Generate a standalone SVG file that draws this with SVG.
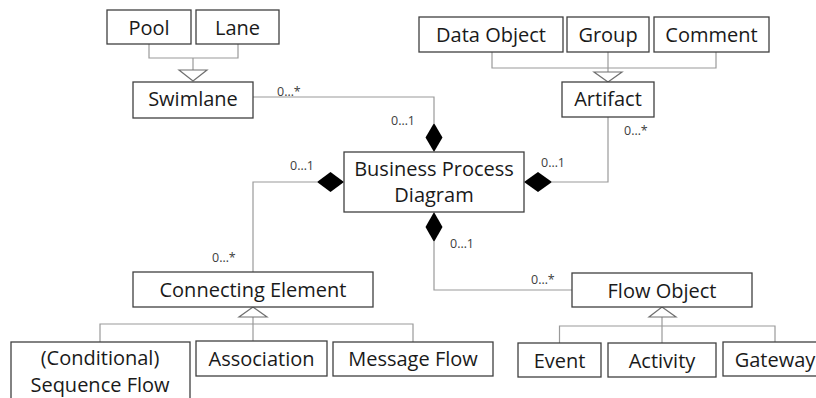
<svg xmlns="http://www.w3.org/2000/svg" width="816" height="398" viewBox="0 0 816 398">
  <style>
    .box { fill: #ffffff; stroke: #404040; stroke-width: 1.3; }
    .lbl { font-family: "Open Sans", "Noto Sans", sans-serif; font-size: 20px; fill: #1a1a1a; text-anchor: middle; }
    .mult { font-family: "Open Sans", "Noto Sans", sans-serif; font-size: 12.5px; fill: #404040; }
    .wire { fill: none; stroke: #9a9a9a; stroke-width: 1.2; }
    .gen { fill: #ffffff; stroke: #707070; stroke-width: 1.2; }
    .comp { fill: #000000; }
  </style>
  <rect width="816" height="398" fill="#ffffff"/>

  <!-- connectors -->
  <g id="connectors">
    <!-- Pool / Lane generalize Swimlane -->
    <path class="wire" d="M149 44 V58 H238 V44 M193 58 V70"/>
    <polygon class="gen" points="179,70 207,70 193,81"/>
    <!-- Data Object / Group / Comment generalize Artifact -->
    <path class="wire" d="M492 52 V68 H716 V52 M608 52 V72"/>
    <polygon class="gen" points="594,72 622,72 608,82"/>
    <!-- Swimlane composed into diagram -->
    <path class="wire" d="M253 97 H434 V123"/>
    <polygon class="comp" points="434,123 442.5,137.5 434,152 425.5,137.5"/>
    <text class="mult" x="277" y="96">0…*</text>
    <text class="mult" x="391" y="125">0…1</text>
    <!-- Artifact composed into diagram -->
    <path class="wire" d="M608 117 V182 H552"/>
    <polygon class="comp" points="552,182 538,192 524,182 538,172"/>
    <text class="mult" x="624" y="135">0…*</text>
    <text class="mult" x="541" y="167">0…1</text>
    <!-- Connecting Element composed into diagram -->
    <path class="wire" d="M317 182 H253 V272"/>
    <polygon class="comp" points="344,182 330.5,192 317,182 330.5,172"/>
    <text class="mult" x="290" y="170">0…1</text>
    <text class="mult" x="212" y="262">0…*</text>
    <!-- Flow Object composed into diagram -->
    <path class="wire" d="M434 242 V290 H572"/>
    <polygon class="comp" points="434,212 442.5,227 434,242 425.5,227"/>
    <text class="mult" x="450" y="248">0…1</text>
    <text class="mult" x="531" y="284">0…*</text>
    <!-- subclasses of Connecting Element -->
    <path class="wire" d="M100 342 V324 H413 V342 M253 317 V341"/>
    <polygon class="gen" points="239,317 267,317 253,307"/>
    <!-- subclasses of Flow Object -->
    <path class="wire" d="M559.5 343 V326 H775 V342 M662 317 V343"/>
    <polygon class="gen" points="649,317 676,317 662,307"/>
  </g>

  <!-- nodes -->
  <g id="pool"><rect class="box" x="107" y="10" width="84" height="34"/><text class="lbl" x="149" y="34.5">Pool</text></g>
  <g id="lane"><rect class="box" x="196" y="10" width="83" height="34"/><text class="lbl" x="237.5" y="34.5">Lane</text></g>
  <g id="swimlane"><rect class="box" x="133" y="82" width="120" height="36"/><text class="lbl" x="193" y="105.5">Swimlane</text></g>
  <g id="data-object"><rect class="box" x="419" y="17" width="144" height="35"/><text class="lbl" x="491" y="42">Data Object</text></g>
  <g id="group"><rect class="box" x="567" y="17" width="82" height="35"/><text class="lbl" x="608" y="42">Group</text></g>
  <g id="comment"><rect class="box" x="654" y="17" width="115" height="35"/><text class="lbl" x="711.5" y="42">Comment</text></g>
  <g id="artifact"><rect class="box" x="562" y="82" width="92" height="35"/><text class="lbl" x="608" y="106">Artifact</text></g>
  <g id="business-process-diagram">
    <rect class="box" x="344" y="152" width="180" height="60"/>
    <text class="lbl" x="434" y="176">Business Process</text>
    <text class="lbl" x="434" y="202">Diagram</text>
  </g>
  <g id="connecting-element"><rect class="box" x="133" y="272" width="240" height="35"/><text class="lbl" x="253" y="296.5">Connecting Element</text></g>
  <g id="flow-object"><rect class="box" x="572" y="273" width="180" height="34"/><text class="lbl" x="662" y="297.5">Flow Object</text></g>
  <g id="sequence-flow">
    <rect class="box" x="11" y="342" width="179" height="70"/>
    <text class="lbl" x="100" y="365">(Conditional)</text>
    <text class="lbl" x="100" y="392">Sequence Flow</text>
  </g>
  <g id="association"><rect class="box" x="196" y="341" width="131" height="35"/><text class="lbl" x="261.5" y="365.5">Association</text></g>
  <g id="message-flow"><rect class="box" x="333" y="342" width="160" height="34"/><text class="lbl" x="413" y="366">Message Flow</text></g>
  <g id="event"><rect class="box" x="518" y="343" width="83" height="34"/><text class="lbl" x="559.5" y="367.5">Event</text></g>
  <g id="activity"><rect class="box" x="608" y="343" width="108" height="34"/><text class="lbl" x="662" y="367.5">Activity</text></g>
  <g id="gateway"><rect class="box" x="723" y="342" width="104" height="34"/><text class="lbl" x="775" y="366.5">Gateway</text></g>
</svg>
